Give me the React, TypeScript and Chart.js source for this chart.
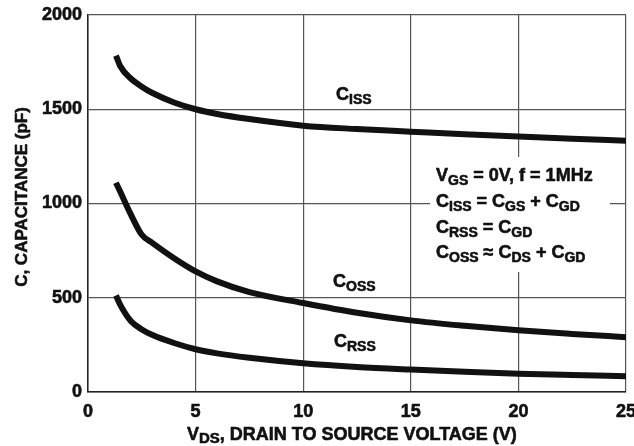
import React, { useEffect, useRef } from "react";
import { Chart, registerables } from "chart.js";

Chart.register(...registerables);

// Drain-to-source voltage (V)
const VDS = [1.3, 1.5, 2, 2.5, 3, 4, 5, 6, 7.5, 10, 12.5, 15, 17.5, 20, 22.5, 25];
// Capacitances (pF)
const CISS = [1785, 1728, 1662, 1620, 1586, 1536, 1500, 1475, 1448, 1413, 1395, 1381, 1367, 1355, 1343, 1333];
const COSS = [1110, 1062, 940, 834, 790, 710, 640, 587, 530, 472, 420, 380, 351, 327, 308, 291];
const CRSS = [512, 462, 375, 332, 302, 260, 227, 205, 182, 153, 133, 119, 107, 97, 90, 84];

const X_TICKS = [0, 5, 10, 15, 20, 25];
const Y_TICKS = [0, 500, 1000, 1500, 2000];

const FONT = '"Liberation Sans", Arial, Helvetica, sans-serif';
const INK = "#111";

type Run = [string, boolean];

function drawRuns(
  ctx: CanvasRenderingContext2D,
  x: number,
  y: number,
  runs: Run[],
  main: number,
  sub: number,
  off: number
) {
  let cx = x;
  for (const [t, s] of runs) {
    ctx.font = `bold ${s ? sub : main}px ${FONT}`;
    const yy = s ? y + off : y;
    ctx.fillText(t, cx, yy);
    ctx.strokeText(t, cx, yy);
    cx += ctx.measureText(t).width;
  }
  return cx;
}

const textPlugin = {
  id: "texts",
  beforeDatasetsDraw(chart: any) {
    const ctx: CanvasRenderingContext2D = chart.ctx;
    ctx.save();
    ctx.fillStyle = "#ffffff";
    ctx.fillRect(430, 157, 180, 115);
    ctx.restore();
  },
  afterDraw(chart: any) {
    const ctx: CanvasRenderingContext2D = chart.ctx;
    ctx.save();
    ctx.fillStyle = INK;
    ctx.strokeStyle = INK;
    ctx.lineWidth = 0.6;
    ctx.lineJoin = "round";
    ctx.textBaseline = "alphabetic";
    ctx.textAlign = "left";

    // curve labels
    drawRuns(ctx, 336, 100, [["C", false], ["ISS", true]], 18, 14, 4);
    drawRuns(ctx, 333, 287, [["C", false], ["OSS", true]], 18, 14, 4);
    drawRuns(ctx, 334, 347, [["C", false], ["RSS", true]], 18, 14, 4);

    // conditions block
    const L = 436;
    drawRuns(ctx, L, 181, [["V", false], ["GS", true], [" = 0V, f = 1MHz", false]], 18, 14, 4);
    drawRuns(ctx, L, 207, [["C", false], ["ISS", true], [" = C", false], ["GS", true], [" + C", false], ["GD", true]], 18, 14, 4);
    drawRuns(ctx, L, 233, [["C", false], ["RSS", true], [" = C", false], ["GD", true]], 18, 14, 4);
    drawRuns(ctx, L, 258, [["C", false], ["OSS", true], [" \u2248 C", false], ["DS", true], [" + C", false], ["GD", true]], 18, 14, 4);

    // x axis title
    drawRuns(ctx, 187, 440, [["V", false], ["DS", true], [", DRAIN TO SOURCE VOLTAGE (V)", false]], 18, 15, 3);

    // y axis title
    ctx.translate(26.5, 197);
    ctx.rotate(-Math.PI / 2);
    ctx.textAlign = "center";
    ctx.font = `bold 17px ${FONT}`;
    ctx.fillText("C, CAPACITANCE (pF)", 0, 0);
    ctx.strokeText("C, CAPACITANCE (pF)", 0, 0);
    ctx.restore();
  },
};

export default function App() {
  const ref = useRef<HTMLCanvasElement | null>(null);

  useEffect(() => {
    if (!ref.current) return;
    const mk = (arr: number[]) => VDS.map((v, i) => ({ x: v, y: arr[i] }));
    const line = (label: string, arr: number[]) => ({
      label,
      data: mk(arr),
      borderColor: INK,
      borderWidth: 6,
      pointRadius: 0,
      fill: false,
      cubicInterpolationMode: "monotone" as const,
      borderCapStyle: "butt" as const,
    });
    const gridColor = "#555";
    const tickFont = { family: FONT, size: 18, weight: "bold" as const };
    const tickOpts = {
      font: tickFont,
      color: INK,
      textStrokeColor: INK,
      textStrokeWidth: 0.6,
      autoSkip: false,
      callback: (v: any) => String(v),
    };
    const chart = new Chart(ref.current, {
      type: "line",
      data: {
        datasets: [line("CISS", CISS), line("COSS", COSS), line("CRSS", CRSS)],
      },
      plugins: [textPlugin],
      options: {
        animation: false,
        responsive: false,
        devicePixelRatio: 1,
        layout: { padding: { left: 0, right: 8, top: 15, bottom: 0 } },
        plugins: { legend: { display: false }, tooltip: { enabled: false } },
        scales: {
          x: {
            type: "linear",
            min: 0,
            max: 25,
            afterBuildTicks: (s: any) => {
              s.ticks = X_TICKS.map((v) => ({ value: v }));
            },
            afterFit: (s: any) => {
              s.height = 54;
              s.paddingLeft = 0;
              s.paddingRight = 0;
            },
            grid: { color: gridColor, lineWidth: 1.2, drawTicks: false },
            border: { color: "#222", width: 1.5 },
            ticks: { ...tickOpts, padding: 9, maxRotation: 0 },
          },
          y: {
            type: "linear",
            min: 0,
            max: 2000,
            afterBuildTicks: (s: any) => {
              s.ticks = Y_TICKS.map((v) => ({ value: v }));
            },
            afterFit: (s: any) => {
              s.width = 88;
              s.paddingTop = 0;
              s.paddingBottom = 0;
            },
            grid: { color: gridColor, lineWidth: 1.2, drawTicks: false },
            border: { color: "#222", width: 1.5 },
            ticks: { ...tickOpts, padding: 6 },
          },
        },
      } as any,
    });
    return () => chart.destroy();
  }, []);

  return (
    <div style={{ position: "absolute", left: 0, top: 0, width: 634, height: 446, background: "#fff" }}>
      <canvas ref={ref} width={634} height={446} style={{ display: "block" }} />
    </div>
  );
}
